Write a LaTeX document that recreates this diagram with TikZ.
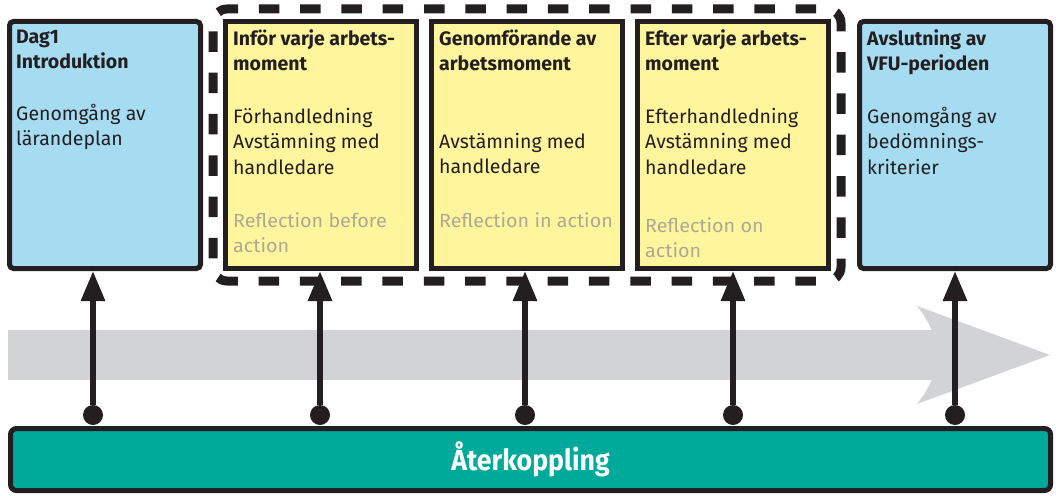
\documentclass[tikz,border=0pt]{standalone}
\usepackage{fontspec}
\setmainfont{Fira Sans}
\newfontfamily\barfont{Fira Sans}[FakeStretch=0.92]
\newfontfamily\reflfont{Fira Sans}[FakeStretch=1.04]
\usepackage{tikz}
\usetikzlibrary{positioning,fit,arrows.meta}

\definecolor{ink}{RGB}{35,31,32}
\definecolor{stageblue}{RGB}{166,220,242}
\definecolor{stageyellow}{RGB}{255,245,157}
\definecolor{feedbackteal}{RGB}{0,170,155}
\definecolor{bandgray}{RGB}{209,211,212}
\definecolor{reflgray}{RGB}{172,170,150}

\newcommand{\topstrut}{\rule{0pt}{18pt}}

\begin{document}
\begin{tikzpicture}[
    x=1pt, y=-1pt,
    stage/.style={rectangle, draw=ink, line width=5pt, fill=stageyellow, minimum width=191pt, minimum height=247pt, inner sep=0pt, anchor=north west},
    endstage/.style={stage, fill=stageblue, rounded corners=4pt},
    txt/.style={anchor=north west, align=left, inner sep=0pt, text=ink, font=\fontsize{19.5}{25.5}\selectfont},
    head/.style={txt, font=\fontsize{19.5}{25.5}\selectfont\bfseries},
    refl/.style={txt, text=reflgray, font=\reflfont\fontsize{19}{25.5}\selectfont},
    frame/.style={draw=ink, line width=9pt, dash pattern=on 20.5pt off 20.8pt, dash phase=30.5pt, rounded corners=14pt, inner sep=10pt},
    dot/.style={circle, fill=ink, inner sep=0pt, minimum size=20pt},
    riser/.style={draw=ink, line width=6pt, -{Triangle[width=23pt,length=30pt]}}
]
\useasboundingbox (0,0) rectangle (1056,495);

% gray time band
\fill[bandgray] (8,330) rectangle (966,380);
\fill[bandgray] (917,306) -- (1050,355) -- (917,404) .. controls (943,372) and (943,338) .. cycle;

% stages
\node[endstage] (intro) at (7,19) {};
\node[stage, right=20pt of intro] (prep) {};
\node[stage, right=10pt of prep] (during) {};
\node[stage, right=10pt of during] (after) {};
\node[endstage, right=26pt of after] (closing) {};
\node[frame, fit=(prep)(after)] (loop) {};

% stage texts
\node[head] (introhead) at ([shift={(9,6)}]intro.north west) {\topstrut Dag1\\Introduktion};
\node[txt] (introbody) at ([shift={(9,83)}]intro.north west) {\topstrut Genomgång av\\lärandeplan};

\node[head] (prephead) at ([shift={(10,8)}]prep.north west) {\topstrut Inför varje arbets-\\moment};
\node[txt] (prepbody) at ([shift={(10,86)}]prep.north west) {\topstrut Förhandledning\\Avstämning med\\handledare};
\node[refl] (prepref) at ([shift={(10,190)}]prep.north west) {\topstrut Reflection before\\action};

\node[head] (duringhead) at ([shift={(10,8)}]during.north west) {\topstrut Genomförande av\\arbetsmoment};
\node[txt] (duringbody) at ([shift={(10,111)}]during.north west) {\topstrut Avstämning med\\handledare};
\node[refl] (duringref) at ([shift={(10,190)}]during.north west) {\topstrut Reflection in action};

\node[head] (afterhead) at ([shift={(10,8)}]after.north west) {\topstrut Efter varje arbets-\\moment};
\node[txt] (afterbody) at ([shift={(10,86)}]after.north west) {\topstrut Efterhandledning\\Avstämning med\\handledare};
\node[refl] (afterref) at ([shift={(10,195)}]after.north west) {\topstrut Reflection on\\action};

\node[head] (closinghead) at ([shift={(10,8)}]closing.north west) {\topstrut Avslutning av\\VFU-perioden};
\node[txt] (closingbody) at ([shift={(10,86)}]closing.north west) {\topstrut Genomgång av\\bedömnings-\\kriterier};

% feedback bar
\node[draw=ink, line width=5pt, fill=feedbackteal, rounded corners=6pt, minimum width=1040pt, minimum height=62pt, text=white, font=\barfont\fontsize{29}{34}\selectfont\bfseries] (feedback) at (530.5,459.5) {Återkoppling};

% feedback risers
\node[dot] (d1) at (93,415) {};
\node[dot] (d2) at (320,415) {};
\node[dot] (d3) at (525,415) {};
\node[dot] (d4) at (733,415) {};
\node[dot] (d5) at (955,415) {};

\draw[riser] (d1) -- (d1 |- intro.south);
\draw[riser] (d2) -- (d2 |- prep.south);
\draw[riser] (d3) -- (d3 |- during.south);
\draw[riser] (d4) -- (d4 |- after.south);
\draw[riser] (d5) -- (d5 |- closing.south);
\end{tikzpicture}
\end{document}
